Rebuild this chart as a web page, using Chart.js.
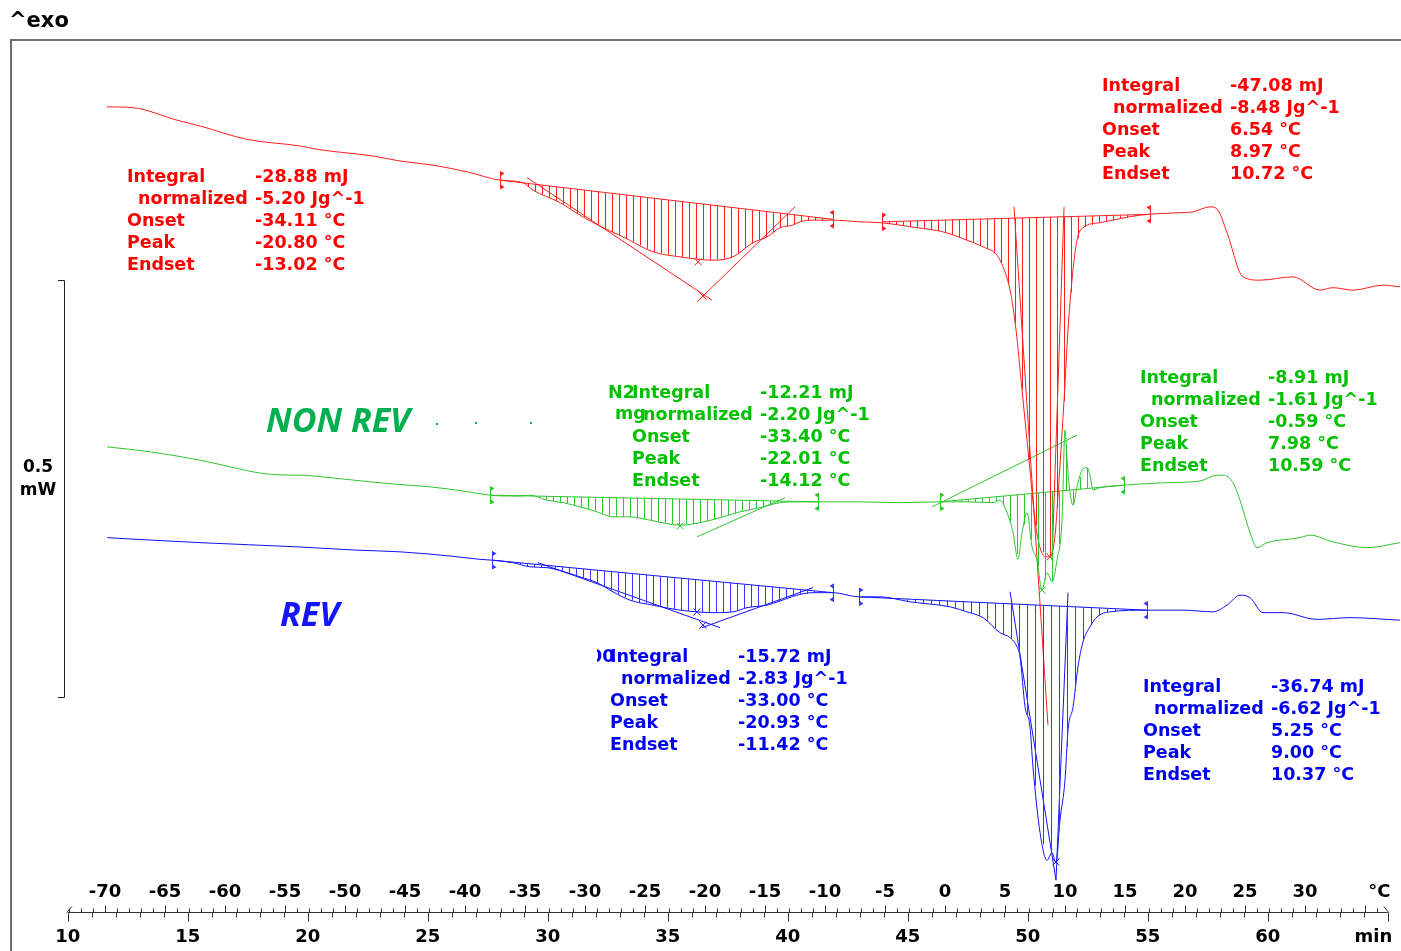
<!DOCTYPE html>
<html>
<head>
<meta charset="utf-8">
<script src="https://cdn.jsdelivr.net/npm/chart.js@4.4.0/dist/chart.umd.min.js"></script>
<style>
html, body { margin: 0; padding: 0; background: #fff; overflow: hidden; }
canvas { display: block; }
</style>
</head>
<body>
<canvas id="chDsc" width="1401" height="951"></canvas>
<script>
// temperature (°C) and heat flow (mW, curves offset, exo up)
var redTemp = [-69.83,-67.67,-64.0,-62.08,-58.17,-53.75,-52.33,-47.67,-45.42,-42.67,-39.83,-37.08,-35.17,-34.33,-32.08,-30.42,-28.5,-26.83,-24.33,-22.08,-19.33,-17.67,-16.0,-14.83,-13.75,-12.67,-12.08,-11.0,-9.33,-7.08,-5.42,-2.33,-0.17,1.83,3.17,4.33,4.83,5.42,5.92,6.42,7.0,7.5,7.92,8.42,8.83,9.17,9.5,9.92,10.25,10.58,11.0,11.5,12.92,16.25,19.58,20.67,22.08,22.75,23.5,24.83,26.25,29.0,31.25,32.33,34.0,36.5,37.92];
var redFlow = [1.013,1.012,0.997,0.990,0.974,0.966,0.962,0.954,0.948,0.943,0.935,0.925,0.922,0.913,0.898,0.883,0.868,0.857,0.839,0.833,0.829,0.833,0.850,0.857,0.868,0.871,0.875,0.877,0.877,0.875,0.874,0.868,0.863,0.853,0.845,0.835,0.821,0.793,0.745,0.673,0.589,0.517,0.484,0.473,0.475,0.499,0.565,0.661,0.745,0.805,0.853,0.868,0.874,0.883,0.886,0.887,0.893,0.889,0.862,0.809,0.805,0.809,0.793,0.796,0.793,0.799,0.797];

var greenTemp = [-69.83,-66.25,-62.08,-59.58,-56.83,-54.0,-53.75,-51.25,-47.92,-45.67,-42.92,-40.17,-37.92,-36.5,-35.42,-34.58,-33.17,-31.83,-30.42,-29.0,-27.67,-26.25,-24.58,-22.08,-20.42,-18.75,-17.08,-15.42,-13.75,-12.08,-10.58,-7.08,-3.75,-0.42,1.83,4.0,4.58,5.17,5.67,6.08,6.42,6.83,7.25,7.67,8.08,8.5,8.92,9.33,9.75,10.0,10.17,10.42,10.67,11.0,11.42,11.83,12.08,12.33,12.92,14.92,18.5,21.25,22.67,23.17,24.0,24.58,25.42,26.0,26.83,29.58,30.42,32.33,35.17,37.92];
var greenFlow = [0.605,0.599,0.589,0.581,0.573,0.571,0.571,0.568,0.563,0.560,0.557,0.552,0.547,0.546,0.546,0.547,0.541,0.538,0.533,0.527,0.521,0.521,0.517,0.511,0.514,0.520,0.527,0.532,0.538,0.539,0.539,0.539,0.538,0.539,0.539,0.538,0.541,0.526,0.502,0.470,0.502,0.526,0.485,0.469,0.433,0.454,0.443,0.469,0.517,0.625,0.589,0.550,0.535,0.557,0.577,0.580,0.571,0.553,0.556,0.559,0.562,0.564,0.571,0.571,0.562,0.541,0.502,0.484,0.490,0.496,0.499,0.491,0.484,0.490];

var blueTemp = [-69.83,-62.08,-54.0,-49.0,-45.42,-41.25,-38.75,-37.75,-36.0,-34.58,-33.17,-31.5,-30.42,-29.0,-27.67,-26.25,-24.33,-22.08,-20.67,-19.33,-17.67,-16.5,-14.83,-13.75,-12.33,-11.0,-9.33,-7.17,-5.42,-2.92,0.42,1.83,3.17,4.58,5.42,6.0,6.25,6.67,7.08,7.33,7.92,8.5,8.92,9.25,9.58,10.0,10.25,10.67,11.08,11.5,12.08,12.67,13.75,16.83,19.83,22.33,23.5,24.58,25.42,26.5,28.17,31.0,33.75,37.92];
var blueFlow = [0.496,0.490,0.485,0.481,0.479,0.474,0.470,0.469,0.466,0.461,0.460,0.454,0.449,0.442,0.431,0.421,0.415,0.409,0.407,0.406,0.407,0.412,0.415,0.420,0.427,0.430,0.430,0.425,0.425,0.419,0.413,0.407,0.400,0.382,0.376,0.365,0.353,0.293,0.269,0.221,0.142,0.109,0.118,0.106,0.157,0.205,0.265,0.293,0.341,0.371,0.389,0.401,0.407,0.409,0.409,0.407,0.415,0.427,0.424,0.406,0.406,0.398,0.400,0.397];

// integration baselines [temp, flow]
var redBaseLow = [[-37.08, 0.925], [-9.33, 0.878]];
var redBaseMelt = [[-5.25, 0.875], [17.08, 0.884]];
var greenBaseLow = [[-37.92, 0.547], [-10.58, 0.539]];
var greenBaseMelt = [[-0.42, 0.539], [14.92, 0.559]];
var blueBaseLow = [[-37.75, 0.469], [-9.33, 0.430]];
var blueBaseMelt = [[-7.17, 0.425], [16.83, 0.409]];

// onset / endset tangents
var redTangents = [
    [[-34.83, 0.928], [-19.42, 0.781]],
    [[-20.67, 0.779], [-12.5, 0.893]],
    [[5.75, 0.893], [8.58, 0.271]],
    [[9.92, 0.893], [8.92, 0.469]]
];
var greenTangents = [
    [[-20.67, 0.497], [-13.33, 0.544]],
    [[-1.08, 0.533], [11.0, 0.619]]
];
var blueTangents = [
    [[-33.92, 0.466], [-18.75, 0.388]],
    [[-20.25, 0.388], [-11.0, 0.436]],
    [[5.42, 0.431], [9.25, 0.085]],
    [[10.25, 0.430], [9.25, 0.085]]
];

// peak / intersection crosses
var redPeaks = [[-20.58, 0.827], [-20.17, 0.786], [8.75, 0.473]];
var greenPeaks = [[-22.08, 0.510], [8.08, 0.433]];
var bluePeaks = [[-20.67, 0.407], [-20.17, 0.391], [9.25, 0.107]];

var statLabels = ['Integral', 'normalized', 'Onset', 'Peak', 'Endset'];
var redLowStats = ['-28.88 mJ', '-5.20 Jg^-1', '-34.11 °C', '-20.80 °C', '-13.02 °C'];
var redMeltStats = ['-47.08 mJ', '-8.48 Jg^-1', '6.54 °C', '8.97 °C', '10.72 °C'];
var greenLowStats = ['-12.21 mJ', '-2.20 Jg^-1', '-33.40 °C', '-22.01 °C', '-14.12 °C'];
var greenMeltStats = ['-8.91 mJ', '-1.61 Jg^-1', '-0.59 °C', '7.98 °C', '10.59 °C'];
var blueLowStats = ['-15.72 mJ', '-2.83 Jg^-1', '-33.00 °C', '-20.93 °C', '-11.42 °C'];
var blueMeltStats = ['-36.74 mJ', '-6.62 Jg^-1', '5.25 °C', '9.00 °C', '10.37 °C'];

var tempTicks = [-70, -65, -60, -55, -50, -45, -40, -35, -30, -25, -20, -15, -10, -5, 0, 5, 10, 15, 20, 25, 30];
var timeTicks = [10, 15, 20, 25, 30, 35, 40, 45, 50, 55, 60];
var timeRange = [10, 65];
var heatRate = 2;          // K/min
var startTemp = -93.1;     // °C at 0 min
var scaleBar = [0.805, 0.305]; // 0.5 mW

var colRed = '#ff1e1e', colRedText = '#ff0000';
var colGreen = '#2ec42e', colGreenText = '#00c000';
var colBlue = '#1010ff', colBlueHatch = '#3535ff', colBlueText = '#0000f0';

function toPts(temps, flows) {
    return temps.map(function (t, i) { return { x: t, y: flows[i] }; });
}
function pairPts(pairs) {
    return pairs.map(function (p) { return { x: p[0], y: p[1] }; });
}
function lerpCurve(temps, flows, t) {
    for (var i = 0; i < temps.length - 1; i++) {
        if (t >= temps[i] && t <= temps[i + 1]) {
            var f = (t - temps[i]) / (temps[i + 1] - temps[i]);
            return flows[i] + f * (flows[i + 1] - flows[i]);
        }
    }
    return null;
}
function minToTemp(m) { return startTemp + heatRate * m; }

var datasets = [];
function addCurve(temps, flows, color) {
    datasets.push({
        data: toPts(temps, flows), borderColor: color, borderWidth: 1,
        pointRadius: 0, fill: false, cubicInterpolationMode: 'monotone'
    });
}
function addSegs(list, color) {
    list.forEach(function (seg) {
        datasets.push({ data: pairPts(seg), borderColor: color, borderWidth: 1, pointRadius: 0, fill: false });
    });
}
function addCrosses(list, color) {
    datasets.push({
        data: pairPts(list), showLine: false, pointStyle: 'crossRot',
        pointRadius: 5, borderColor: color, borderWidth: 1, backgroundColor: color
    });
}

addCurve(redTemp, redFlow, colRed);
addCurve(greenTemp, greenFlow, colGreen);
addCurve(blueTemp, blueFlow, colBlue);
addSegs([redBaseLow, redBaseMelt].concat(redTangents), colRed);
addSegs([greenBaseLow, greenBaseMelt].concat(greenTangents), colGreen);
addSegs([blueBaseLow, blueBaseMelt].concat(blueTangents), colBlue);
addCrosses(redPeaks, colRed);
addCrosses(greenPeaks, colGreen);
addCrosses(bluePeaks, colBlue);

var integrations = [
    { temps: redTemp, flows: redFlow, base: redBaseLow, color: colRed, step: 7 },
    { temps: redTemp, flows: redFlow, base: redBaseMelt, color: colRed, step: 7 },
    { temps: greenTemp, flows: greenFlow, base: greenBaseLow, color: colGreen, step: 7 },
    { temps: greenTemp, flows: greenFlow, base: greenBaseMelt, color: colGreen, step: 7 },
    { temps: blueTemp, flows: blueFlow, base: blueBaseLow, color: colBlueHatch, step: 7 },
    { temps: blueTemp, flows: blueFlow, base: blueBaseMelt, color: colBlueHatch, step: 8 }
];

var statBlocks = [
    { values: redLowStats, color: colRedText, x: 127, xv: 255, y: 177 },
    { values: redMeltStats, color: colRedText, x: 1102, xv: 1230, y: 86 },
    { values: greenLowStats, color: colGreenText, x: 632, xv: 760, y: 393 },
    { values: greenMeltStats, color: colGreenText, x: 1140, xv: 1268, y: 378 },
    { values: blueLowStats, color: colBlueText, x: 610, xv: 738, y: 657 },
    { values: blueMeltStats, color: colBlueText, x: 1143, xv: 1271, y: 687 }
];

function drawLimit(ctx, x, y, dir, color) {
    ctx.strokeStyle = color;
    ctx.fillStyle = color;
    ctx.lineWidth = 1;
    ctx.beginPath();
    ctx.moveTo(x, y - 9);
    ctx.lineTo(x, y + 9);
    ctx.stroke();
    ctx.beginPath();
    ctx.moveTo(x, y - 9); ctx.lineTo(x + 4 * dir, y - 7); ctx.lineTo(x, y - 4);
    ctx.moveTo(x, y + 4); ctx.lineTo(x + 4 * dir, y + 7); ctx.lineTo(x, y + 9);
    ctx.fill();
}

var dscDecor = {
    id: 'dscDecor',
    afterDatasetsDraw: function (chart) {
        var ctx = chart.ctx;
        var xs = chart.scales.x, ys = chart.scales.y;
        ctx.save();

        // hatching between curve and integration baseline
        integrations.forEach(function (it) {
            var b0 = it.base[0], b1 = it.base[1];
            var x0 = xs.getPixelForValue(b0[0]), x1 = xs.getPixelForValue(b1[0]);
            ctx.strokeStyle = it.color;
            ctx.lineWidth = 1;
            ctx.beginPath();
            for (var px = Math.round(x0) + it.step; px < x1 - 1; px += it.step) {
                var t = xs.getValueForPixel(px);
                var c = lerpCurve(it.temps, it.flows, t);
                if (c === null) continue;
                var b = b0[1] + (t - b0[0]) / (b1[0] - b0[0]) * (b1[1] - b0[1]);
                var yc = ys.getPixelForValue(c), yb = ys.getPixelForValue(b);
                if (Math.abs(yc - yb) < 1.5) continue;
                ctx.moveTo(px + 0.5, yb);
                ctx.lineTo(px + 0.5, yc);
            }
            ctx.stroke();
            drawLimit(ctx, Math.round(x0) + 0.5, ys.getPixelForValue(b0[1]), 1, it.color);
            drawLimit(ctx, Math.round(x1) + 0.5, ys.getPixelForValue(b1[1]), -1, it.color);
        });

        // result tables
        ctx.textBaseline = 'middle';
        ctx.textAlign = 'left';
        ctx.font = 'bold 17.5px "DejaVu Sans"';
        statBlocks.forEach(function (bl) {
            ctx.fillStyle = bl.color;
            for (var i = 0; i < statLabels.length; i++) {
                var yy = bl.y + i * 22;
                ctx.fillText(statLabels[i], bl.x + (i === 1 ? 11 : 0), yy);
                ctx.fillText(bl.values[i], bl.xv, yy);
            }
        });
        // leftovers of overlapped sample labels
        ctx.fillStyle = colGreenText;
        ctx.fillText('N2', 608, 393);
        ctx.fillText('mg', 615, 414);
        ctx.fillStyle = colBlueText;
        ctx.save();
        ctx.beginPath(); ctx.rect(597, 640, 20, 30); ctx.clip();
        ctx.fillText('00', 590, 657);
        ctx.restore();

        // curve names
        ctx.font = 'italic bold 34px "Open Sans"';
        ctx.textBaseline = 'alphabetic';
        ctx.fillStyle = '#00b050';
        ctx.fillText('NON REV', 266, 432);
        ctx.fillStyle = '#1414ff';
        ctx.fillText('REV', 280, 626);
        ctx.fillStyle = '#00b050';
        [[436, 423], [475, 422], [530, 422]].forEach(function (d) { ctx.fillRect(d[0], d[1], 2, 2); });

        // frame
        ctx.strokeStyle = '#6e6e6e';
        ctx.lineWidth = 2;
        ctx.beginPath();
        ctx.moveTo(11, 951); ctx.lineTo(11, 40); ctx.lineTo(1401, 40);
        ctx.stroke();

        // ^exo
        ctx.fillStyle = '#000';
        ctx.font = 'bold 21px "DejaVu Sans"';
        ctx.textBaseline = 'middle';
        ctx.fillText('^exo', 9, 22);

        // 0.5 mW scale bar
        var sTop = Math.round(ys.getPixelForValue(scaleBar[0])) + 0.5;
        var sBot = Math.round(ys.getPixelForValue(scaleBar[1])) + 0.5;
        ctx.strokeStyle = '#222';
        ctx.lineWidth = 1;
        ctx.beginPath();
        ctx.moveTo(58, sTop); ctx.lineTo(64.5, sTop); ctx.lineTo(64.5, sBot); ctx.lineTo(58, sBot);
        ctx.stroke();
        ctx.textAlign = 'center';
        ctx.font = 'bold 17px "DejaVu Sans"';
        ctx.fillText('0.5', 38, 468);
        ctx.fillText('mW', 38, 491);

        // dual axis: °C above, min below
        var ay = 912.5;
        var xa = xs.getPixelForValue(minToTemp(timeRange[0]));
        var xb = xs.getPixelForValue(minToTemp(timeRange[1]));
        ctx.strokeStyle = '#333';
        ctx.beginPath();
        ctx.moveTo(xa, ay); ctx.lineTo(xb, ay);
        ctx.moveTo(xa - 1, ay); ctx.lineTo(xa + 4, ay - 6);
        ctx.moveTo(xb - 4, ay - 6); ctx.lineTo(xb + 1, ay);
        var tFirst = Math.ceil(minToTemp(timeRange[0])), tLast = Math.floor(minToTemp(timeRange[1]));
        for (var t = tFirst; t <= tLast; t++) {
            var px = Math.round(xs.getPixelForValue(t)) + 0.5;
            ctx.moveTo(px, ay); ctx.lineTo(px, ay - (t % 5 === 0 ? 7 : 4));
        }
        for (var m = timeRange[0]; m <= timeRange[1]; m++) {
            var pm = Math.round(xs.getPixelForValue(minToTemp(m))) + 0.5;
            ctx.moveTo(pm, ay); ctx.lineTo(pm, ay + (m % 5 === 0 ? 9 : 5));
        }
        ctx.stroke();

        ctx.fillStyle = '#000';
        ctx.font = 'bold 18px "DejaVu Sans"';
        ctx.textAlign = 'center';
        tempTicks.forEach(function (t) {
            ctx.fillText(String(t), xs.getPixelForValue(t), 892);
        });
        ctx.fillText('°C', xs.getPixelForValue(36.2), 892);
        timeTicks.forEach(function (m) {
            ctx.fillText(String(m), xs.getPixelForValue(minToTemp(m)), 937);
        });
        ctx.fillText('min', xs.getPixelForValue(minToTemp(64.4)), 937);

        ctx.restore();
    }
};

new Chart(document.getElementById('chDsc'), {
    type: 'line',
    data: { datasets: datasets },
    options: {
        responsive: false,
        animation: false,
        layout: { autoPadding: false, padding: { left: 10, top: 40, right: 0, bottom: 0 } },
        plugins: { legend: { display: false }, tooltip: { enabled: false } },
        scales: {
            x: { type: 'linear', min: -77.92, max: 38.0, display: false },
            y: { type: 'linear', min: 0, max: 1.0932, display: false }
        }
    },
    plugins: [dscDecor]
});
</script>
</body>
</html>
